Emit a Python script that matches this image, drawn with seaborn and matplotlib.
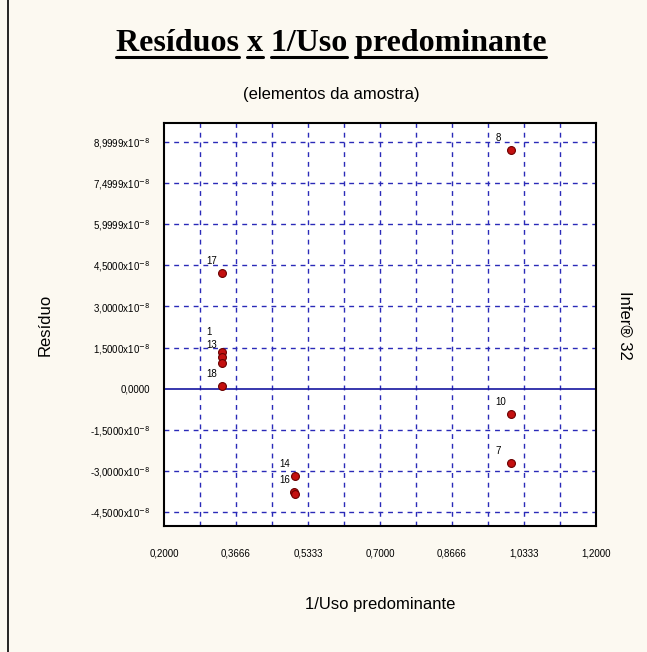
import matplotlib
matplotlib.use("Agg")
import matplotlib.pyplot as plt
import seaborn as sns
import numpy as np
import pandas as pd
from matplotlib.lines import Line2D

# ---- data ----
labels = ["8", "17", "1", "13", "3", "18", "14", "16", "5", "10", "7"]
x_vals = [1.003, 0.334, 0.334, 0.334, 0.334, 0.334, 0.503, 0.502, 0.503, 1.003, 1.003]
y_vals = [8.71e-8, 4.22e-8, 1.34e-8, 1.16e-8, 0.94e-8, 0.10e-8, -3.19e-8, -3.78e-8, -3.86e-8, -0.92e-8, -2.71e-8]
show_label = [True, True, True, True, False, True, True, True, False, True, True]

x_ticks = [0.2, 0.3666, 0.5333, 0.7, 0.8666, 1.0333, 1.2]
x_ticklabels = ["0,2000", "0,3666", "0,5333", "0,7000", "0,8666", "1,0333", "1,2000"]
y_ticks = [8.9999e-8, 7.4999e-8, 5.9999e-8, 4.5e-8, 3.0e-8, 1.5e-8, 0.0, -1.5e-8, -3.0e-8, -4.5e-8]
y_ticklabels = [r"8,9999x10$^{-8}$", r"7,4999x10$^{-8}$", r"5,9999x10$^{-8}$", r"4,5000x10$^{-8}$",
                r"3,0000x10$^{-8}$", r"1,5000x10$^{-8}$", "0,0000", r"-1,5000x10$^{-8}$",
                r"-3,0000x10$^{-8}$", r"-4,5000x10$^{-8}$"]

df = pd.DataFrame({"x": x_vals, "y": y_vals, "label": labels})

sns.set_style("white")
plt.rcParams["font.family"] = ["Liberation Sans", "DejaVu Sans"]
plt.rcParams["text.color"] = "black"
plt.rcParams["xtick.color"] = "black"
plt.rcParams["ytick.color"] = "black"

bg = "#FCF9F1"
fig = plt.figure(figsize=(6.47, 6.52), dpi=100, facecolor=bg)
ax = fig.add_axes([164/647, 1-526/652, 432/647, 403/652])
ax.set_facecolor("white")

ax.set_xlim(0.2, 1.2)
ax.set_ylim(-5.01e-8, 9.69e-8)

# grid: vertical every 1/12, horizontal at the labelled ticks
grid_color = "#2A2AB8"
for gx in np.arange(1, 12) / 12 + 0.2:
    ax.axvline(gx, color=grid_color, lw=1.0, ls=(0, (3.5, 3.5)), zorder=1)
for gy in y_ticks:
    if gy == 0:
        ax.axhline(gy, color="#1515A0", lw=1.2, zorder=1)
    else:
        ax.axhline(gy, color=grid_color, lw=1.0, ls=(0, (3.5, 3.5)), zorder=1)

sns.scatterplot(data=df, x="x", y="y", ax=ax, s=32, color="#C41010",
                edgecolor="#6A0000", linewidth=0.8, zorder=3, legend=False)

for lab, xv, yv, sh in zip(labels, x_vals, y_vals, show_label):
    if sh:
        off = (-11, 11) if lab == "1" else (-11, 5)
        ax.annotate(lab, (xv, yv), xytext=off, textcoords="offset points",
                    fontsize=7, color="black", ha="left", va="bottom", zorder=4)

ax.set_xticks(x_ticks)
ax.set_xticklabels(x_ticklabels, fontsize=7)
ax.set_yticks(y_ticks)
ax.set_yticklabels(y_ticklabels, fontsize=7)
ax.tick_params(axis="both", direction="out", length=4, width=1, color="#1515A0", pad=6)
ax.tick_params(axis="x", pad=12)
ax.set_xlabel("")
ax.set_ylabel("")
for sp in ax.spines.values():
    sp.set_color("black")
    sp.set_linewidth(1.5)

# texts
title = "Resíduos x 1/Uso predominante"
t = fig.text(331/647, 1-43/652, title, ha="center", va="center", color="black",
             fontsize=23, fontweight="bold", family=["Liberation Serif", "DejaVu Serif"])
# underline each word of the title
fig.canvas.draw()
r = fig.canvas.get_renderer()
bb = t.get_window_extent(r)
W, H = fig.bbox.width, fig.bbox.height
def width_of(s):
    tt = fig.text(0, 0, s, fontsize=23, fontweight="bold", family=["Liberation Serif", "DejaVu Serif"])
    w = tt.get_window_extent(r).width
    tt.remove()
    return w
pos = 0
for word in title.split(" "):
    start = title.index(word, pos)
    x0 = bb.x0 + (width_of(title[:start]) if start > 0 else 0)
    x1 = bb.x0 + width_of(title[:start + len(word)])
    pos = start + len(word)
    fig.add_artist(Line2D([x0 / W, x1 / W], [1-57/652, 1-57/652], color="black", lw=2.2))

fig.text(331/647, 1-95/652, "(elementos da amostra)", ha="center", va="center", fontsize=12)
fig.text(380/647, 1-605/652, "1/Uso predominante", ha="center", va="center", fontsize=12)
fig.text(45/647, 1-325/652, "Resíduo", ha="center", va="center", fontsize=12, rotation=90)
fig.text(625/647, 1-325/652, "Infer® 32", ha="center", va="center", fontsize=12, rotation=270)

fig.add_artist(Line2D([8/647, 8/647], [0, 1], color="black", lw=1.2))

fig.savefig("out.png", dpi=100, facecolor=bg)
